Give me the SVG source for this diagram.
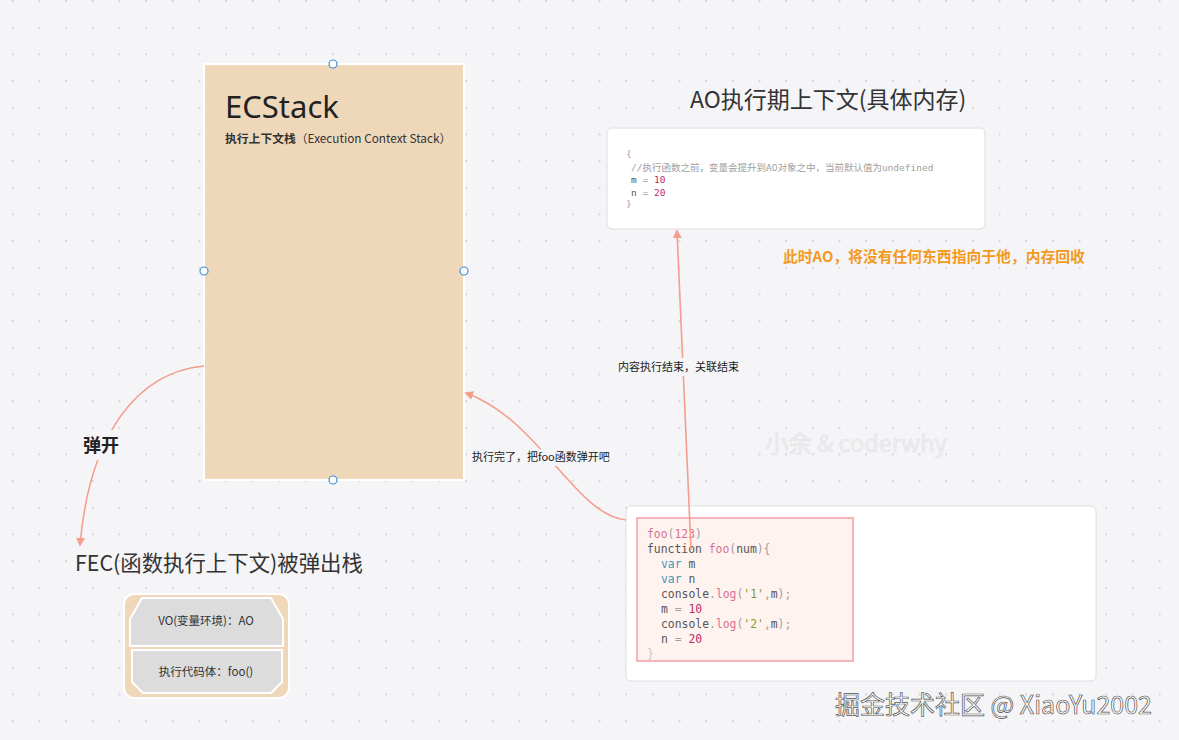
<svg xmlns="http://www.w3.org/2000/svg" width="1179" height="740" viewBox="0 0 1179 740">
<defs>
<pattern id="dots" x="11.7" y="0" width="26.67" height="26.67" patternUnits="userSpaceOnUse">
<circle cx="1" cy="1" r="0.9" fill="#c9c9ce"/>
</pattern>
<marker id="ah" viewBox="0 0 10 10" refX="8" refY="5" markerWidth="9" markerHeight="9" markerUnits="userSpaceOnUse" orient="auto">
<path d="M0,0 L10,5 L0,10 z" fill="#f59e8c"/>
</marker>
<style>
.sans{font-family:"Noto Sans","Noto Sans CJK SC",sans-serif;}
.cjk{font-family:"Noto Sans CJK SC","Noto Sans",sans-serif;}
.mono{font-family:"DejaVu Sans Mono","Noto Sans CJK SC",monospace;}
.conn{fill:none;stroke:#f59e8c;stroke-width:1.6;}
.lbl{font-family:"Noto Sans CJK SC",sans-serif;font-size:11px;fill:#222;}
.lblbg{fill:#f5f5f7;}
.handle{fill:#fff;stroke:#3d8fd6;stroke-width:1.2;}
.card{fill:#fff;stroke:#dedee2;stroke-width:1;}
.g{fill:#a0a0a0;}
.d{fill:#555;}
.p{fill:#d9708f;}
.n{fill:#b8306a;}
.k{fill:#3f9ab8;}
.s{fill:#8a9a2c;}
</style>
</defs>
<rect width="1179" height="740" fill="#f5f5f7"/>
<rect width="1179" height="740" fill="url(#dots)"/>

<text x="765" y="452" class="cjk" font-size="23.5" fill="#eeeef0" stroke="#e3e3e6" stroke-width="0.6">小余 &amp; coderwhy</text>

<g id="ecstack">
<rect x="204" y="64" width="260" height="416" fill="#efd8ba" stroke="#fff" stroke-width="2"/>
<text x="225" y="118" class="sans" font-size="31" fill="#222">ECStack</text>
<text x="225" y="143" class="cjk" font-size="11.8" fill="#333"><tspan font-weight="bold">执行上下文栈</tspan>（Execution Context Stack）</text>
<circle class="handle" cx="333" cy="64" r="4"/>
<circle class="handle" cx="204" cy="271" r="4"/>
<circle class="handle" cx="464" cy="271" r="4"/>
<circle class="handle" cx="333" cy="480" r="4"/>
</g>

<g id="ao-title">
<text x="690" y="108" class="cjk" font-size="23" fill="#333">AO执行期上下文(具体内存)</text>
</g>

<g id="ao-box">
<rect class="card" x="607" y="128" width="378" height="101" rx="5"/>
<text class="mono" font-size="9.5" xml:space="preserve"><tspan x="626" y="157" class="g">{</tspan><tspan x="631" y="170.5" class="g">//执行函数之前，变量会提升到AO对象之中，当前默认值为undefined</tspan><tspan x="631" y="183" class="d">m <tspan class="g">=</tspan> <tspan class="n">10</tspan></tspan><tspan x="631" y="195.5" class="d">n <tspan class="g">=</tspan> <tspan class="n">20</tspan></tspan><tspan x="626" y="207" class="g">}</tspan></text>
</g>

<g id="note">
<text x="783" y="262" class="cjk" font-size="14.8" font-weight="bold" fill="#f39a1e">此时AO，将没有任何东西指向于他，内存回收</text>
</g>

<g id="code-box">
<rect class="card" x="626" y="506" width="470" height="175" rx="5"/>
<rect x="637" y="518" width="216" height="143" fill="#fff3f0" stroke="#f5b5b8" stroke-width="2"/>
<text class="mono" font-size="11.4" xml:space="preserve"><tspan x="647" y="538" class="p">foo<tspan class="g">(</tspan>123<tspan class="g">)</tspan></tspan><tspan x="647" y="553" class="d">function <tspan class="p">foo</tspan><tspan class="g">(</tspan>num<tspan class="g">){</tspan></tspan><tspan x="661" y="568" class="k">var <tspan class="d">m</tspan></tspan><tspan x="661" y="583" class="k">var <tspan class="d">n</tspan></tspan><tspan x="661" y="598" class="d">console<tspan class="g">.</tspan><tspan class="p">log</tspan><tspan class="g">(</tspan><tspan class="s">'1'</tspan><tspan class="g">,</tspan>m<tspan class="g">);</tspan></tspan><tspan x="661" y="613" class="d">m <tspan class="g">=</tspan> <tspan class="n">10</tspan></tspan><tspan x="661" y="628" class="d">console<tspan class="g">.</tspan><tspan class="p">log</tspan><tspan class="g">(</tspan><tspan class="s">'2'</tspan><tspan class="g">,</tspan>m<tspan class="g">);</tspan></tspan><tspan x="661" y="643" class="d">n <tspan class="g">=</tspan> <tspan class="n">20</tspan></tspan><tspan x="647" y="658" fill="#c8c8c8">}</tspan></text>
</g>

<g id="fec-title">
<text x="75" y="571" class="cjk" font-size="21.4" fill="#333">FEC(函数执行上下文)被弹出栈</text>
</g>

<g id="fec-box">
<rect x="124" y="594" width="165" height="104" rx="10" fill="#efd8ba" stroke="#fff" stroke-width="2"/>
<path d="M142,598 L271,598 L283,619 L283,646 L130,646 L130,619 z" fill="#dcdcdc" stroke="#fff" stroke-width="2"/>
<text x="206" y="625" class="cjk" font-size="11.5" fill="#333" text-anchor="middle">VO(变量环境)：AO</text>
<path d="M132,650 L282,650 L282,682 L271,693 L143,693 L132,682 z" fill="#dcdcdc" stroke="#fff" stroke-width="2"/>
<text x="206" y="676" class="cjk" font-size="11.5" fill="#333" text-anchor="middle">执行代码体：foo()</text>
</g>

<g id="connectors">
<path class="conn" d="M204,366 C140,372 90,430 80,545" marker-end="url(#ah)"/>
<rect class="lblbg" x="80" y="430" width="48" height="30"/>
<text x="83" y="452" class="cjk" font-size="18" font-weight="bold" fill="#222">弹开</text>

<path class="conn" d="M626,520 C575,515 540,420 466,393" marker-end="url(#ah)"/>
<rect class="lblbg" x="470" y="449" width="152" height="17"/>
<text x="472" y="461" class="lbl">执行完了，把foo函数弹开吧</text>

<path class="conn" d="M691,550 L677,231" marker-end="url(#ah)"/>
<rect class="lblbg" x="616" y="358" width="134" height="18"/>
<text x="618" y="371" class="lbl">内容执行结束，关联结束</text>
</g>

<text x="835" y="714" class="cjk" font-size="25" fill="#fff" stroke="#555" stroke-width="0.7">掘金技术社区 @ XiaoYu2002</text>
</svg>
